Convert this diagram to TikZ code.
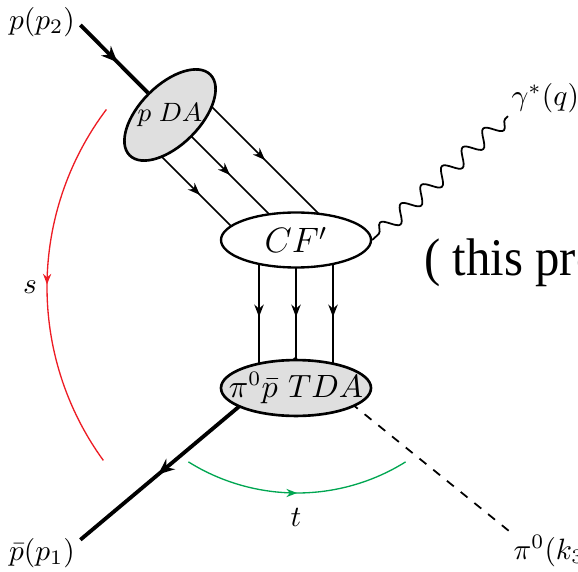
\documentclass[tikz,border=0pt]{standalone}
\usepackage{fontspec}
\newfontfamily\notefont{Liberation Serif}
\usetikzlibrary{arrows.meta,shapes.geometric,decorations.markings,decorations.pathmorphing,backgrounds}
\definecolor{sred}{RGB}{237,28,36}
\definecolor{tgreen}{RGB}{0,166,81}

\begin{document}
\begin{tikzpicture}[x=0.34pt,y=-0.34pt,
  lab/.style={inner sep=1pt},
  blob/.style={ellipse,draw,line width=0.9pt,fill=gray!25,inner sep=0pt},
  quark/.style={line width=0.55pt},
  hadron/.style={line width=1.3pt},
  midarrow/.style={postaction={decorate},decoration={markings,mark=at position #1 with {\arrow{Stealth[length=4.2pt,width=3.2pt]}}}},
  midarrow/.default=0.5,
  bigarrow/.style={postaction={decorate},decoration={markings,mark=at position #1 with {\arrow{Stealth[length=5.5pt,width=4.6pt]}}}},
  bigarrow/.default=0.5,
  arcarrow/.style={postaction={decorate},decoration={markings,mark=at position #1 with {\arrow{Stealth[length=3.6pt,width=2.8pt]}}}},
  arcarrow/.default=0.5]
\useasboundingbox (0,0) rectangle (578,571);
\clip (0,0) rectangle (578,571);
% blobs
\node[blob,rotate=45,minimum width=38.8pt,minimum height=20.4pt] (pda) at (170,115) {};
\node[font=\small] (pdatext) at (pda.center) {$p\;DA$};
\node[blob,fill=white,line width=0.8pt,minimum width=51pt,minimum height=18.7pt,font=\large] (cfp) at (296,240) {$CF'$};
\node[blob,inner xsep=-5pt,minimum width=51pt,minimum height=19pt,font=\fontsize{10.5}{13}\selectfont] (tda) at (296,388) {$\pi^0\bar p\ TDA$};
% external legs
\node[lab] (p2lab) at (42,22) {$p(p_2)$};
\node[lab] (p1lab) at (42,553) {$\bar p(p_1)$};
\node[lab,anchor=west] (gamlab) at (508,98) {$\gamma^*(q)$};
\node[lab,anchor=west] (pilab) at (510,551) {$\pi^0(k_3)$};
\node[lab] (slab) at (30,287) {$s$};
\node[lab] (tlab) at (296,517) {$t$};
\node[anchor=base west,inner sep=0pt,font=\fontsize{18}{22}\notefont] (note) at (424,275) {\scalebox{0.92}[1]{( this pro}};
\begin{scope}[on background layer]
\foreach \dx/\dy/\ex/\ey in {25/-25/39/-10, 0/0/-6/-5, -25/25/-41/10}
  \draw[quark,midarrow] ([shift={(\dx,\dy)}]pda.center) -- ([shift={(\ex,\ey)}]cfp.center);
\foreach \dx in {-37,0,37}
  \draw[quark,midarrow=0.52] ([shift={(\dx,0)}]cfp.center) -- ([shift={(\dx,0)}]tda.center);
\draw[hadron,bigarrow=0.64] (tda.north) -- ([shift={(2,5)}]p1lab.north east);
\draw[dashed,line width=0.6pt] (tda.north) -- (pilab.north west);
\end{scope}
\draw[hadron,bigarrow=0.55] ([shift={(2,3)}]p2lab.east) -- (pda);
\draw[line width=0.6pt,decorate,decoration={snake,segment length=9.5pt,amplitude=2.6pt,pre length=3pt,post length=1pt}] (cfp.east) -- (gamlab.south west);
% invariants
\draw[sred,line width=0.45pt,arcarrow] (342,287) ++(217:295) arc[start angle=217,end angle=144,radius=295];
\draw[tgreen,line width=0.45pt,arcarrow] (297,288) ++(122:205) arc[start angle=122,end angle=58,radius=205];
\end{tikzpicture}
\end{document}
